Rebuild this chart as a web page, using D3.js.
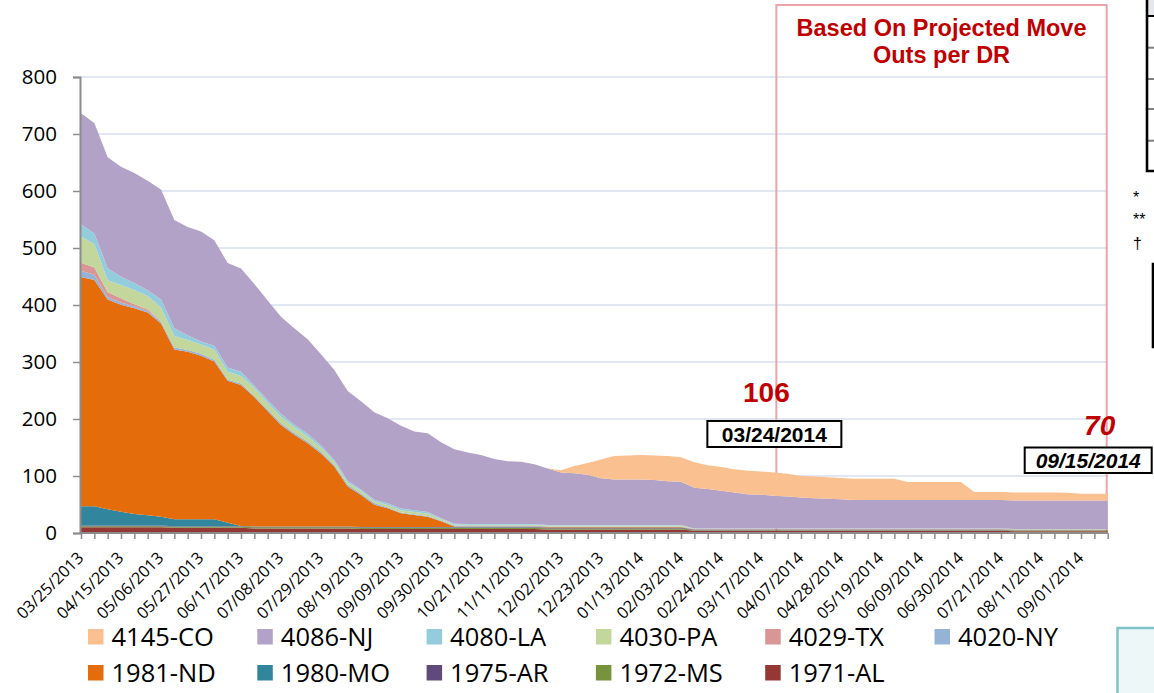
<!DOCTYPE html>
<html><head><meta charset="utf-8">
<script src="https://cdn.jsdelivr.net/npm/d3@7"></script>
<style>
html,body{margin:0;padding:0;background:#fff;}
svg{display:block;}
</style></head>
<body>
<svg id="chart" width="1154" height="693"></svg>
<script>
// ---------- DATA ----------
const dates = [
"03/25/2013","04/01/2013","04/08/2013","04/15/2013","04/22/2013","04/29/2013","05/06/2013","05/13/2013","05/20/2013","05/27/2013",
"06/03/2013","06/10/2013","06/17/2013","06/24/2013","07/01/2013","07/08/2013","07/15/2013","07/22/2013","07/29/2013","08/05/2013",
"08/12/2013","08/19/2013","08/26/2013","09/02/2013","09/09/2013","09/16/2013","09/23/2013","09/30/2013","10/07/2013","10/14/2013",
"10/21/2013","10/28/2013","11/04/2013","11/11/2013","11/18/2013","11/25/2013","12/02/2013","12/09/2013","12/16/2013","12/23/2013",
"12/30/2013","01/06/2014","01/13/2014","01/20/2014","01/27/2014","02/03/2014","02/10/2014","02/17/2014","02/24/2014","03/03/2014",
"03/10/2014","03/17/2014","03/24/2014","03/31/2014","04/07/2014","04/14/2014","04/21/2014","04/28/2014","05/05/2014","05/12/2014",
"05/19/2014","05/26/2014","06/02/2014","06/09/2014","06/16/2014","06/23/2014","06/30/2014","07/07/2014","07/14/2014","07/21/2014",
"07/28/2014","08/04/2014","08/11/2014","08/18/2014","08/25/2014","09/01/2014","09/08/2014","09/15/2014"];

const xTickLabels = ["03/25/2013","04/15/2013","05/06/2013","05/27/2013","06/17/2013","07/08/2013","07/29/2013","08/19/2013",
"09/09/2013","09/30/2013","10/21/2013","11/11/2013","12/02/2013","12/23/2013","01/13/2014","02/03/2014","02/24/2014",
"03/17/2014","04/07/2014","04/28/2014","05/19/2014","06/09/2014","06/30/2014","07/21/2014","08/11/2014","09/01/2014"];

const yTickValues = [0,100,200,300,400,500,600,700,800];

const s1971AL = [10,10,10,10,10,10,10, 9,9,9,9,9,9, 8,8,8,8,8,8,8,8,
 7,7,7,7,7,7,7,7,7,7,7,7,7,7, 6,6,6,6,6,6,6,6,6,6,6,
 4,4,4,4,4,4,4,4, 4,4,4,4,4,4,4,4, 4,4,4,4,4,4,4,4, 3,3,3,3,3,3,3,3];
const s1972MS = [2,2,2,2,2,2,2,2,2,2, 2,2,2,2,2,2,2,2,2,2, 2,2,2,2,2,2,2,2,2,2, 2,2,2,2,2,2,2,2,2,2, 2,2,2,2,2,2,
 1,1,1,1,1,1,1,1, 1,1,1,1,1,1,1,1, 1,1,1,1,1,1,1,1, 1,1,1,1,1,1,1,1];
const s1975AR = [1,1,1,1,1,1,1,1,1,1, 1,1,1,1,1,1,1,1,1,1, 1,1,1,1,1,1,1,1,1,1, 1,1,1,1,1,1,1,1,1,1, 1,1,1,1,1,1,
 0.5,0.5,0.5,0.5,0.5,0.5,0.5,0.5, 0.5,0.5,0.5,0.5,0.5,0.5,0.5,0.5, 0.5,0.5,0.5,0.5,0.5,0.5,0.5,0.5, 0.5,0.5,0.5,0.5,0.5,0.5,0.5,0.5];
const s1980MO = [34,34,28.5,24.5,20.5,18,15.5,12,12,12,12,6,
 0.5,0.5,0.5,0.5,0.5,0.5,0.5,0.5,0.5,0.5, 0.5,0.5,0.5,0.5,0.5,0.5,0.5,0.5,0.5,0.5, 0.5,0.5,0.5,0.5,0.5,0.5,0.5,0.5,0.5,0.5,
 0.5,0.5,0.5,0.5,0.5,0.5,0.5,0.5,0.5,0.5, 0.5,0.5,0.5,0.5,0.5,0.5,0.5,0.5,0.5,0.5, 0.5,0.5,0.5,0.5,0.5,0.5,0.5,0.5,0.5,0.5,
 0.5,0.5,0.5,0.5,0.5,0.5];
const s1981ND = [402,397,368,363,361,356,339,298,294,287,277,249,247,227,202,178,161,146,128,105,70,56,39,33,24,21,18,10,1,
 1,1,1,1,1,1,1,1,1,1,1,1,1,1,1,1,1,
 0.5,0.5,0.5,0.5,0.5,0.5,0.5,0.5, 0.5,0.5,0.5,0.5,0.5,0.5,0.5,0.5, 0.5,0.5,0.5,0.5,0.5,0.5,0.5,0.5, 0.5,0.5,0.5,0.5,0.5,0.5,0.5,0.5];
const s4020NY = [11,9,4.5,4,3,3,3,3.5,3,3.5,3,2.5,3,2,
 3,3,3,3,3,3,3,3,3,
 1.5,1.5,1.5,1.5,1.5,1.5,1.5,1.5,1.5,1.5,1.5,1.5,
 1,1,1,1,1,1,1,1,1,1,1,
 0.5,0.5,0.5,0.5,0.5,0.5,0.5,0.5, 0.5,0.5,0.5,0.5,0.5,0.5,0.5,0.5, 0.5,0.5,0.5,0.5,0.5,0.5,0.5,0.5, 0.5,0.5,0.5,0.5,0.5,0.5,0.5,0.5];
const s4029TX = [14,13,8.5,7.5,4,2.5,1.2,
 0,0,0,0,0,0,0,0,0,0, 0,0,0,0,0,0,0,0,0,0, 0,0,0,0,0,0,0,0,0,0, 0,0,0,0,0,0,0,0,0,0,
 0,0,0,0,0,0,0,0,0,0, 0,0,0,0,0,0,0,0,0,0, 0,0,0,0,0,0,0,0,0,0, 0];
const s4030PA = [46,41,21,23,25,23.5,24,20,17.5,16,17.5,13.5,13,14,11.5,11.5,10,9,7.5,5.5,4,4.5,3,4,4,4,4,2.5,2,
 1.5,1.5,1.5,1.5,1.5,1.5,1.5,1.5,1.5,1.5,1.5,1.5,1.5,1.5,1.5,1.5,1.5,
 0.5,0.5,0.5,0.5,0.5,0.5,0.5,0.5, 0.5,0.5,0.5,0.5,0.5,0.5,0.5,0.5, 0.5,0.5,0.5,0.5,0.5,0.5,0.5,0.5, 0.5,0.5,0.5,0.5,0.5,0.5,0.5,0.5];
const s4080LA = [21.5,18.5,21,14.5,12,10,14,13.5,8.5,5.5,7,7.5,7.5,4,5.5,5,4.5,4.5,4,3,3,2.5,3,3,3,3,3,1.5,
 1.3,1.3,1.3,1.3,1.3,1.3,1.3,
 1,1,1,1,1,1,1,1,1,1,1,
 0.5,0.5,0.5,0.5,0.5,0.5,0.5,0.5, 0.5,0.5,0.5,0.5,0.5,0.5,0.5,0.5, 0.5,0.5,0.5,0.5,0.5,0.5,0.5,0.5, 0.5,0.5,0.5,0.5,0.5,0.5,0.5,0.5];
const s4086NJ = [195,194,194.5,193,193,192,193,190,190,193,185,183,181,178.5,174.5,170.5,169,166,159.5,158,157.5,154.5,153.5,149.5,145,138,138,133,130.5,125.5,121,114,110,109,105,
 99,92,91,88,82,80,80,80,79,77,76,
 71.5,69,66,63,60,59,57.5,56,54.5,53,52,51,
 50,50,50,50,50,50,50,50,50,50, 50,50,50,50,50,50,50,50,50,50];
const s4145CO = [0,0,0,0,0,0,0,0,0,0, 0,0,0,0,0,0,0,0,0,0, 0,0,0,0,0,0,0,0,0,0, 0,0,0,0,0,
 0,4,12.5,21,33,41,42,43,43,44,43,44.5,42,42,41,41,41,40.5,40,37.5,38,38,37.5,37,37,37,37,
 31.5,31.5,31.5,31.5,31.5,14,14,14,14,14,14,14,13.5,12,12,12];

// stacking order: bottom -> top
const seriesKeys = ["1971-AL","1972-MS","1975-AR","1980-MO","1981-ND","4020-NY","4029-TX","4030-PA","4080-LA","4086-NJ","4145-CO"];
const seriesValues = [s1971AL,s1972MS,s1975AR,s1980MO,s1981ND,s4020NY,s4029TX,s4030PA,s4080LA,s4086NJ,s4145CO];
const seriesColors = ["#953735","#77933c","#604a7b","#31859c","#e46c0a","#95b3d7","#d99694","#c3d69b","#93cddd","#b3a2c7","#fac090"];

const legendRow1 = ["4145-CO","4086-NJ","4080-LA","4030-PA","4029-TX","4020-NY"];
const legendRow2 = ["1981-ND","1980-MO","1975-AR","1972-MS","1971-AL"];

// annotations
const markDate1 = "03/24/2014", markValue1 = 106;
const markDate2 = "09/15/2014", markValue2 = 70;
const boxTitle = ["Based On Projected Move", "Outs per DR"];

// ---------- BUILD ----------
const svg = d3.select("#chart");
const W = 1154, H = 693;
svg.append("rect").attr("width", W).attr("height", H).attr("fill", "#fff");

const x = d3.scalePoint().domain(dates).range([81, 1107.7]);
const y = d3.scaleLinear().domain([0, 800]).range([533, 77]);

const table = dates.map((d, i) => {
  const row = {date: d};
  seriesKeys.forEach((k, j) => row[k] = seriesValues[j][i]);
  return row;
});
const stacked = d3.stack().keys(seriesKeys)(table);
const colorOf = d3.scaleOrdinal().domain(seriesKeys).range(seriesColors);

// gridlines
svg.append("g").selectAll("line").data(yTickValues.filter(v => v > 0)).join("line")
  .attr("x1", 80).attr("x2", x(dates[dates.length-1]))
  .attr("y1", d => y(d)).attr("y2", d => y(d))
  .attr("stroke", "#d9e1ef").attr("stroke-width", 1.3);

// projected box (behind areas)
const bx0 = x(markDate1) + 2, bx1 = x(markDate2) - 1;
svg.append("rect").attr("x", bx0).attr("y", 5).attr("width", bx1 - bx0).attr("height", 533 - 5)
  .attr("fill", "none").attr("stroke", "#eda3a8").attr("stroke-width", 2);

// areas
const area = d3.area().x(d => x(d.data.date)).y0(d => y(d[0])).y1(d => y(d[1]));
svg.append("g").selectAll("path").data(stacked).join("path")
  .attr("d", area).attr("fill", d => colorOf(d.key));

// y axis
const yAxis = svg.append("g").attr("transform", "translate(80,0)")
  .call(d3.axisLeft(y).tickValues(yTickValues).tickSize(7).tickPadding(16).tickFormat(d3.format("d")));
yAxis.select(".domain").attr("stroke", "#8c8c8c").attr("stroke-width", 2);
yAxis.selectAll(".tick line").attr("stroke", "#8c8c8c").attr("stroke-width", 1.5);
yAxis.selectAll("text").attr("font-family", "'Open Sans', sans-serif").attr("font-size", 20.5).attr("fill", "#000");

// x axis
const xAxis = svg.append("g").attr("transform", "translate(0,533)")
  .call(d3.axisBottom(x).tickSize(6).tickSizeOuter(0).tickFormat(d => xTickLabels.includes(d) ? d : ""));
xAxis.select(".domain").attr("stroke", "#8c8c8c").attr("stroke-width", 2).attr("d", "M80,0H" + x(dates[dates.length-1]));
xAxis.selectAll(".tick line").attr("stroke", "#8c8c8c").attr("stroke-width", 1.5);
xAxis.selectAll("text")
  .attr("font-family", "'Open Sans', sans-serif").attr("font-size", 16.3).attr("fill", "#000")
  .attr("text-anchor", "end").attr("y", 0).attr("dy", 0)
  .attr("transform", "translate(3,26) rotate(-45)");

// legend
const legX0 = 88, legStep = 169.3;
function legendRow(items, cy) {
  const g = svg.append("g");
  const it = g.selectAll("g").data(items).join("g")
    .attr("transform", (d, i) => `translate(${legX0 + i * legStep},${cy})`);
  it.append("rect").attr("x", 0).attr("y", -8).attr("width", 15.5).attr("height", 15.5)
    .attr("fill", d => colorOf(d));
  it.append("text").attr("x", 23.5).attr("y", 0).attr("dy", "0.36em")
    .attr("font-family", "'Open Sans', sans-serif").attr("font-size", 25.5).attr("fill", "#000")
    .text(d => d);
}
legendRow(legendRow1, 637);
legendRow(legendRow2, 673);

// projection title
const cx = (bx0 + bx1) / 2;
svg.append("g").selectAll("text").data(boxTitle).join("text")
  .attr("x", cx).attr("y", (d, i) => 36 + i * 27).attr("text-anchor", "middle")
  .attr("font-family", "'Liberation Sans', Arial, sans-serif").attr("font-weight", "bold")
  .attr("font-size", 23.5).attr("fill", "#c00000").text(d => d);

// marker 1
const m1x = x(markDate1);
svg.append("text").attr("x", m1x - 8).attr("y", 402).attr("text-anchor", "middle")
  .attr("font-family", "'Liberation Sans', Arial, sans-serif").attr("font-weight", "bold")
  .attr("font-size", 28).attr("fill", "#c00000").text(markValue1);
svg.append("rect").attr("x", m1x - 67).attr("y", 421).attr("width", 134).attr("height", 26)
  .attr("fill", "#fff").attr("stroke", "#000").attr("stroke-width", 2);
svg.append("text").attr("x", m1x).attr("y", 441.5).attr("text-anchor", "middle")
  .attr("font-family", "'Liberation Sans', Arial, sans-serif").attr("font-weight", "bold")
  .attr("font-size", 21).attr("fill", "#000").text(markDate1);

// marker 2
const m2x = x(markDate2);
svg.append("text").attr("x", m2x - 8).attr("y", 435).attr("text-anchor", "middle")
  .attr("font-family", "'Liberation Sans', Arial, sans-serif").attr("font-weight", "bold").attr("font-style", "italic")
  .attr("font-size", 28).attr("fill", "#c00000").text(markValue2);
svg.append("rect").attr("x", m2x - 83).attr("y", 447.5).attr("width", 127).attr("height", 25.5)
  .attr("fill", "#fff").attr("stroke", "#000").attr("stroke-width", 2);
svg.append("text").attr("x", m2x - 19.5).attr("y", 467.5).attr("text-anchor", "middle")
  .attr("font-family", "'Liberation Sans', Arial, sans-serif").attr("font-weight", "bold").attr("font-style", "italic")
  .attr("font-size", 21).attr("fill", "#000").text(markDate2);

// right-side cropped decorations
const deco = svg.append("g");
deco.append("rect").attr("x", 1148).attr("y", 0).attr("width", 6).attr("height", 15).attr("fill", "#e4e8ee");
deco.append("line").attr("x1", 1148).attr("x2", 1154).attr("y1", 16).attr("y2", 16).attr("stroke", "#000").attr("stroke-width", 2);
[47.7, 79, 109, 140.7].forEach(v => deco.append("line").attr("x1", 1148).attr("x2", 1154)
  .attr("y1", v).attr("y2", v).attr("stroke", "#808080").attr("stroke-width", 2));
deco.append("path").attr("d", "M1147,0V171H1154").attr("fill", "none").attr("stroke", "#000").attr("stroke-width", 2.6);
deco.append("path").attr("d", "M1154,264H1153V347H1154").attr("fill", "none").attr("stroke", "#000").attr("stroke-width", 2.6);
const notes = [["*", 203], ["**", 225], ["\u2020", 249]];
deco.selectAll("text.fn").data(notes).join("text").attr("class", "fn")
  .attr("x", 1133).attr("y", d => d[1]).attr("font-family", "'Liberation Sans', Arial, sans-serif")
  .attr("font-size", 16).attr("fill", "#000").text(d => d[0]);
deco.append("rect").attr("x", 1117.5).attr("y", 628).attr("width", 60).attr("height", 80)
  .attr("fill", "#eef7f7").attr("stroke", "#7ec4c7").attr("stroke-width", 2.5);
</script>
</body></html>
